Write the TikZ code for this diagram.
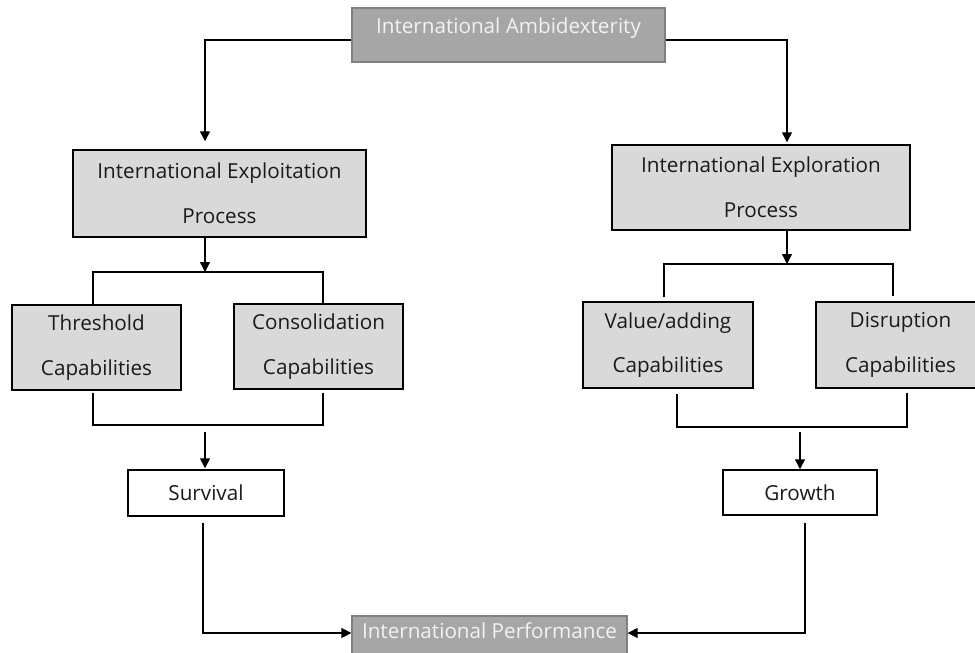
\documentclass[tikz,border=0pt]{standalone}
\usepackage{fontspec}
\setmainfont{Open Sans}
\usetikzlibrary{calc,arrows.meta}
\definecolor{darkfill}{HTML}{A6A6A6}
\definecolor{darkline}{HTML}{808080}
\definecolor{lightfill}{HTML}{D9D9D9}
\definecolor{txt}{HTML}{1A1A1A}
\definecolor{lighttxt}{HTML}{F2F2F2}
\begin{document}
\begin{tikzpicture}[x=0.75pt,y=-0.75pt,
  sz/.style 2 args={minimum width=#1*0.75pt, minimum height=#2*0.75pt},
  box/.style={draw, line width=1.1pt, rectangle, inner sep=0pt, align=center,
    font=\fontsize{15.5}{33.5}\selectfont, text=txt},
  procbox/.style={box, fill=lightfill},
  whitebox/.style={box, fill=white},
  darkbox/.style={draw=darkline, fill=darkfill, line width=1pt, rectangle, inner sep=0pt,
    font=\fontsize{15.5}{18}\selectfont, text=lighttxt},
  conn/.style={line width=1.05pt, black},
  arr/.style={conn, -{Triangle[length=7.5pt,width=7.5pt]}}
]
\useasboundingbox (0,0) rectangle (975,653);

% boxes
\node[darkbox, sz={313}{54}, text height=11.5pt, text depth=14pt] (amb) at (508.5,35) {International Ambidexterity};
\node[procbox, sz={293}{87}] (expl) at (219.5,193.5) {International Exploitation\\Process};
\node[procbox, sz={298}{85}] (explr) at (761,187.5) {International Exploration\\Process};
\node[procbox, sz={169}{85}] (thr) at (96.5,347.5) {Threshold\\Capabilities};
\node[procbox, sz={169}{85}] (cons) at (318.5,346.5) {Consolidation\\Capabilities};
\node[procbox, sz={170}{86}] (val) at (668,345) {Value/adding\\Capabilities};
\node[procbox, sz={169}{86}] (dis) at (900.5,345) {Disruption\\Capabilities};
\node[whitebox, sz={156}{46}] (surv) at (206,493) {Survival};
\node[whitebox, sz={154}{45}] (grow) at (800,492.5) {Growth};
\node[darkbox, sz={275}{40}, text height=12pt, text depth=8.5pt] (perf) at (489.5,636) {International Performance};

% bracket junctions
\coordinate (lbrtop) at (205,272);
\coordinate (lbrbot) at (205,425);
\coordinate (rbrtop) at (787,264);
\coordinate (rbrbot) at (800,427);

% top split
\draw[arr] ($(amb.west)+(0,5)$) -| ($(expl.north)+(-14.5,-8)$);
\draw[arr] ($(amb.east)+(0,5)$) -| ($(explr.north)+(26,-2)$);

% left branch
\draw[arr] ($(expl.south)+(-14.5,0)$) -- (lbrtop);
\draw[conn] ($(thr.north)+(-3.5,0)$) |- (lbrtop) -| ($(cons.north)+(4.5,0)$);
\draw[conn] ($(thr.south)+(-3.5,2)$) |- (lbrbot) -| ($(cons.south)+(4.5,3)$);
\draw[arr] ($(lbrbot)+(0,7)$) -- ($(surv.north)+(-1,-1)$);
\draw[arr] ($(surv.south)+(-3,6)$) |- ($(perf.west)+(0,-3)$);

% right branch
\draw[arr] ($(explr.south)+(26,0)$) -- (rbrtop);
\draw[conn] ($(val.north)+(-4,-4)$) |- (rbrtop) -| ($(dis.north)+(-7.5,-5)$);
\draw[conn] ($(val.south)+(9,5)$) |- (rbrbot) -| ($(dis.south)+(6.5,4)$);
\draw[arr] ($(rbrbot)+(0,5)$) -- (grow.north);
\draw[arr] ($(grow.south)+(5,7)$) |- ($(perf.east)+(0,-3)$);
\end{tikzpicture}
\end{document}
